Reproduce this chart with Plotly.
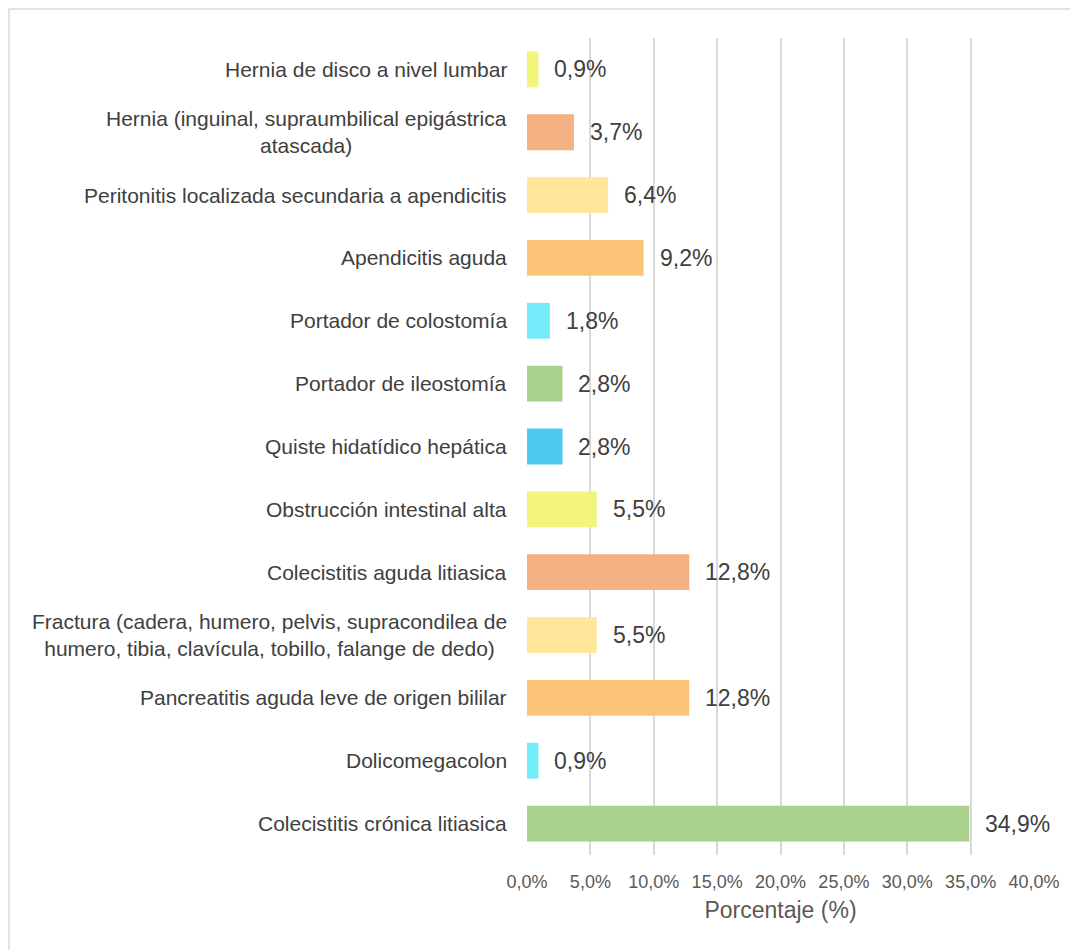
import plotly.graph_objects as go

# categories listed top to bottom as shown in the chart
categorias = [
    "Hernia de disco a nivel lumbar",
    "Hernia (inguinal, supraumbilical epigástrica<br>atascada)",
    "Peritonitis localizada secundaria a apendicitis",
    "Apendicitis aguda",
    "Portador de colostomía",
    "Portador de ileostomía",
    "Quiste hidatídico hepática",
    "Obstrucción intestinal alta",
    "Colecistitis aguda litiasica",
    "Fractura (cadera, humero, pelvis, supracondilea de<br>humero, tibia, clavícula, tobillo, falange de dedo)",
    "Pancreatitis aguda leve de origen bililar",
    "Dolicomegacolon",
    "Colecistitis crónica litiasica",
]
porcentajes = [0.9, 3.7, 6.4, 9.2, 1.8, 2.8, 2.8, 5.5, 12.8, 5.5, 12.8, 0.9, 34.9]
colores = ["#F3F57A", "#F4B183", "#FFE699", "#FBC477", "#75ECFA", "#A9D18E",
           "#4EC9EE", "#F3F57A", "#F4B183", "#FFE699", "#FBC477", "#75ECFA", "#A9D18E"]
x_ticks = [0, 5, 10, 15, 20, 25, 30, 35, 40]
x_ticktext = [f"{t:.1f}%".replace(".", ",") for t in x_ticks]

# page body has an 8px margin, so the figure is a bit smaller than the window
W, H = 1070, 942
ml, mr, mt, mb = 519, 44, 30, 95

fig = go.Figure()
fig.add_trace(go.Bar(
    y=categorias, x=porcentajes, orientation="h",
    marker=dict(color=colores, line=dict(width=0)),
    width=0.57, showlegend=False, hoverinfo="x+y",
))

# category labels (centered multi-line like the original)
for cat in categorias:
    fig.add_annotation(x=0, y=cat, xref="x", yref="y", text=cat, showarrow=False,
                       xanchor="right", xshift=-18, align="center",
                       font=dict(size=21, color="#404040"))

# value labels
for cat, v in zip(categorias, porcentajes):
    fig.add_annotation(x=v, y=cat, xref="x", yref="y",
                       text=f"{v:.1f}%".replace(".", ","), showarrow=False,
                       xanchor="left", xshift=14,
                       font=dict(size=23, color="#404040"))

# chart-area border (right and bottom edges fall outside the page)
pw = W - ml - mr
ph = H - mt - mb
fig.add_shape(type="rect", xref="paper", yref="paper",
              x0=(1 - ml) / pw, x1=(W + 60 - ml) / pw,
              y0=-(mb + 60) / ph, y1=1 + (mt - 1) / ph,
              line=dict(color="#d9d9d9", width=1.5), fillcolor="rgba(0,0,0,0)")

fig.update_layout(
    width=W, height=H,
    margin=dict(l=ml, r=mr, t=mt, b=mb),
    paper_bgcolor="white", plot_bgcolor="white",
    font=dict(family="Liberation Sans, Arial, sans-serif", color="#595959"),
    bargap=0.43,
)
fig.update_xaxes(range=[0, 40], tickvals=x_ticks, ticktext=x_ticktext,
                 showgrid=True, gridcolor="#d9d9d9", gridwidth=2,
                 zeroline=False, showline=False, ticks="", ticklabelstandoff=14,
                 tickfont=dict(size=18, color="#595959"),
                 title=dict(text="Porcentaje (%)", font=dict(size=23, color="#595959"), standoff=10))
fig.update_yaxes(autorange="reversed", showticklabels=False, showgrid=False,
                 zeroline=False, showline=False)

fig.write_html("out.html")
